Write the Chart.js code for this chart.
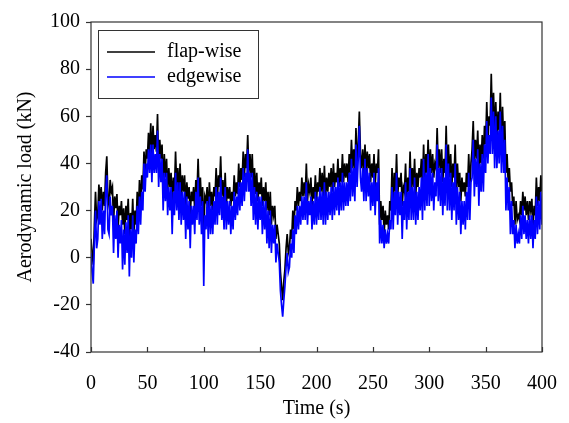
<!DOCTYPE html>
<html>
<head>
<meta charset="utf-8">
<script src="https://cdn.jsdelivr.net/npm/chart.js@4.4.1/dist/chart.umd.min.js"></script>
<style>
  html, body { margin: 0; padding: 0; background: #fff; }
  #wrap { width: 569px; height: 423px; position: relative; }
</style>
</head>
<body>
<div id="wrap"><canvas id="load_chart"></canvas></div>
<script>
// values, one per second from 0 to 400 s (10 per row)
const flapWise = [
  8, 2, -3, 14, 28, 16, 18, 31, 24, 30,
  20, 28, 22, 36, 43, 25, 22, 33, 28, 30,
  15, 26, 21, 27, 12, 22, 18, 24, 14, 21,
  10, 22, 16, 25, 8, 19, 12, 25, 10, 20,
  14, 28, 18, 33, 22, 35, 29, 45, 36, 46,
  42, 53, 44, 57, 42, 56, 46, 52, 45, 61,
  38, 50, 42, 48, 30, 44, 34, 42, 28, 38,
  30, 36, 24, 34, 28, 45, 30, 38, 27, 40,
  25, 35, 28, 35, 22, 32, 25, 30, 17, 28,
  24, 30, 20, 33, 27, 42, 25, 34, 22, 30,
  10, 26, 24, 30, 18, 32, 22, 28, 20, 30,
  26, 38, 24, 35, 30, 43, 26, 33, 24, 36,
  22, 30, 25, 30, 22, 28, 24, 35, 26, 32,
  27, 40, 30, 38, 33, 45, 34, 44, 38, 52,
  36, 44, 34, 44, 28, 38, 27, 36, 24, 32,
  27, 34, 22, 30, 24, 32, 20, 28, 18, 28,
  14, 22, 18, 22, 8, 14, 10, 6, -6, -12,
  -18, -10, -5, 4, 10, 2, 4, 12, 8, 20,
  12, 24, 20, 30, 22, 28, 24, 34, 26, 32,
  26, 40, 24, 31, 28, 34, 22, 30, 25, 35,
  24, 32, 28, 38, 28, 36, 26, 39, 26, 34,
  28, 36, 30, 38, 28, 40, 30, 36, 32, 42,
  30, 38, 32, 44, 32, 40, 34, 40, 32, 44,
  36, 50, 38, 46, 36, 55, 40, 48, 62, 44,
  38, 46, 36, 48, 36, 45, 38, 44, 32, 40,
  34, 44, 30, 40, 36, 46, 14, 24, 16, 22,
  10, 20, 14, 18, 12, 24, 20, 38, 24, 36,
  28, 44, 26, 34, 30, 36, 22, 30, 28, 40,
  24, 34, 28, 45, 28, 38, 30, 42, 26, 36,
  30, 38, 34, 42, 30, 48, 32, 44, 36, 50,
  34, 46, 36, 44, 34, 40, 38, 55, 38, 46,
  36, 46, 32, 42, 36, 56, 34, 48, 34, 44,
  30, 40, 34, 48, 28, 40, 30, 36, 24, 34,
  28, 32, 26, 36, 30, 44, 30, 40, 46, 58,
  40, 50, 42, 54, 36, 48, 40, 52, 42, 56,
  48, 66, 50, 60, 56, 78, 56, 70, 52, 66,
  50, 62, 54, 70, 46, 64, 48, 58, 36, 44,
  32, 38, 28, 32, 22, 26, 14, 24, 16, 18,
  16, 24, 18, 28, 20, 26, 18, 24, 16, 24,
  20, 25, 12, 22, 18, 34, 22, 30, 24, 35,
  28
];
const edgewise = [
  2, -6, -11, 6, 20, 4, 8, 24, 14, 25,
  8, 20, 10, 28, 35, 12, 10, 26, 18, 22,
  2, 18, 8, 20, 0, 14, 6, 16, -5, 12,
  -3, 15, 2, 18, -8, 12, 0, 18, -2, 12,
  6, 22, 10, 26, 14, 28, 20, 40, 28, 40,
  34, 46, 36, 48, 32, 48, 36, 44, 36, 54,
  30, 44, 32, 42, 20, 36, 24, 36, 18, 30,
  20, 30, 10, 28, 18, 36, 20, 32, 16, 32,
  14, 28, 16, 28, 8, 26, 12, 24, 4, 22,
  14, 22, 10, 28, 16, 34, 14, 26, 10, 24,
  -12, 18, 12, 24, 8, 26, 10, 22, 10, 24,
  14, 30, 14, 28, 18, 34, 16, 26, 12, 30,
  12, 24, 14, 24, 10, 22, 12, 28, 16, 26,
  18, 32, 20, 32, 22, 38, 24, 36, 28, 46,
  28, 36, 22, 36, 16, 30, 14, 28, 12, 26,
  16, 26, 10, 24, 12, 24, 6, 20, 4, 20,
  2, 14, 6, 14, -2, 6, 2, -2, -14, -20,
  -25, -18, -12, -4, 2, -6, -4, 6, 0, 12,
  2, 18, 10, 22, 12, 22, 14, 26, 16, 26,
  16, 32, 14, 24, 18, 26, 12, 24, 14, 28,
  14, 26, 16, 30, 16, 28, 14, 32, 14, 28,
  16, 28, 18, 30, 16, 32, 18, 30, 20, 34,
  18, 32, 20, 36, 20, 32, 22, 32, 22, 36,
  24, 42, 26, 38, 24, 48, 30, 42, 56, 34,
  28, 38, 24, 42, 24, 38, 26, 36, 20, 32,
  22, 36, 18, 32, 24, 38, 6, 16, 6, 14,
  4, 12, 6, 10, 6, 16, 12, 30, 12, 28,
  18, 36, 14, 28, 18, 28, 8, 24, 16, 32,
  12, 28, 16, 38, 16, 30, 16, 34, 14, 28,
  16, 30, 20, 34, 16, 42, 20, 36, 22, 44,
  22, 38, 24, 36, 20, 32, 26, 48, 24, 38,
  22, 38, 18, 34, 22, 48, 20, 40, 20, 36,
  16, 32, 20, 40, 14, 30, 16, 28, 10, 24,
  14, 24, 12, 28, 16, 36, 16, 32, 34, 50,
  26, 42, 30, 46, 22, 40, 28, 44, 28, 48,
  36, 58, 40, 52, 44, 68, 44, 62, 38, 60,
  38, 54, 40, 62, 36, 56, 36, 50, 20, 34,
  20, 30, 10, 24, 10, 16, 4, 14, 6, 10,
  6, 18, 8, 22, 10, 18, 8, 16, 6, 18,
  8, 18, 4, 16, 8, 26, 10, 24, 12, 28,
  14
];
const timeStep = 1; // s between samples
const xTicks = [0, 50, 100, 150, 200, 250, 300, 350, 400];
const yTicks = [-40, -20, 0, 20, 40, 60, 80, 100];
const seriesNames = ['flap-wise', 'edgewise'];

const serif = "'Liberation Serif', 'Times New Roman', serif";

const toPoints = (arr) => arr.map((v, i) => ({ x: i * timeStep, y: v }));

// legend box inside the plot + inward ticks on the time axis + frame
const framePlugin = {
    id: 'frame',
    afterDraw(chart) {
        const { ctx, chartArea: a, scales } = chart;
        ctx.save();
        // frame
        ctx.strokeStyle = '#333';
        ctx.lineWidth = 1.2;
        ctx.strokeRect(a.left, a.top, a.right - a.left, a.bottom - a.top);
        // time ticks point inward
        ctx.beginPath();
        xTicks.forEach(t => {
            const px = Math.round(scales.x.getPixelForValue(t)) + 0.5;
            ctx.moveTo(px, a.bottom);
            ctx.lineTo(px, a.bottom - 5);
        });
        ctx.stroke();

        // legend
        const lx = 98, ly = 30, lw = 160, lh = 68;
        ctx.fillStyle = '#fff';
        ctx.fillRect(lx, ly, lw, lh);
        ctx.strokeStyle = '#333';
        ctx.lineWidth = 1;
        ctx.strokeRect(lx + 0.5, ly + 0.5, lw, lh);
        const colors = ['#000000', '#0000ff'];
        ctx.font = '20px ' + serif;
        ctx.textBaseline = 'middle';
        seriesNames.forEach((name, i) => {
            const yy = 52 + i * 25;
            ctx.strokeStyle = colors[i];
            ctx.lineWidth = 1.5;
            ctx.beginPath();
            ctx.moveTo(107, yy);
            ctx.lineTo(155, yy);
            ctx.stroke();
            ctx.fillStyle = '#000';
            ctx.fillText(name, 167, yy);
        });
        ctx.restore();
    }
};

const ctx = document.getElementById('load_chart').getContext('2d');

const loadChart = new Chart(ctx, {
    type: 'line',
    data: {
        datasets: [
            {
                label: seriesNames[1],
                data: toPoints(edgewise),
                borderColor: '#0000ff',
                borderWidth: 1.7,
                pointRadius: 0,
                tension: 0,
            },
            {
                label: seriesNames[0],
                data: toPoints(flapWise),
                borderColor: '#000000',
                borderWidth: 1.7,
                pointRadius: 0,
                tension: 0,
            }
        ]
    },
    options: {
        responsive: true,
        maintainAspectRatio: false,
        animation: false,
        events: [],
        layout: {
            padding: { top: 22, right: 18, left: 0, bottom: 0 }
        },
        plugins: {
            legend: { display: false },
            tooltip: { enabled: false }
        },
        scales: {
            x: {
                type: 'linear',
                min: 0,
                max: 400,
                afterBuildTicks: (scale) => { scale.ticks = xTicks.map(v => ({ value: v })); },
                afterFit: (scale) => { scale.height = 71; },
                grid: { display: false },
                border: { display: false },
                ticks: {
                    color: '#000',
                    padding: 12,
                    maxRotation: 0,
                    font: { family: serif, size: 20 }
                },
                title: {
                    display: true,
                    text: 'Time (s)',
                    color: '#000',
                    font: { family: serif, size: 20 },
                    padding: { top: 0, bottom: 2 }
                }
            },
            y: {
                type: 'linear',
                min: -40,
                max: 100,
                afterBuildTicks: (scale) => { scale.ticks = yTicks.map(v => ({ value: v })); },
                afterFit: (scale) => { scale.width = 91; },
                grid: {
                    drawOnChartArea: false,
                    tickLength: 5,
                    tickColor: '#333',
                    tickWidth: 1.2
                },
                border: { display: false },
                ticks: {
                    color: '#000',
                    padding: 6,
                    font: { family: serif, size: 20 }
                },
                title: {
                    display: true,
                    text: 'Aerodynamic load (kN)',
                    color: '#000',
                    font: { family: serif, size: 20 },
                    padding: { top: 14, bottom: 0 }
                }
            }
        }
    },
    plugins: [framePlugin]
});
</script>
</body>
</html>
